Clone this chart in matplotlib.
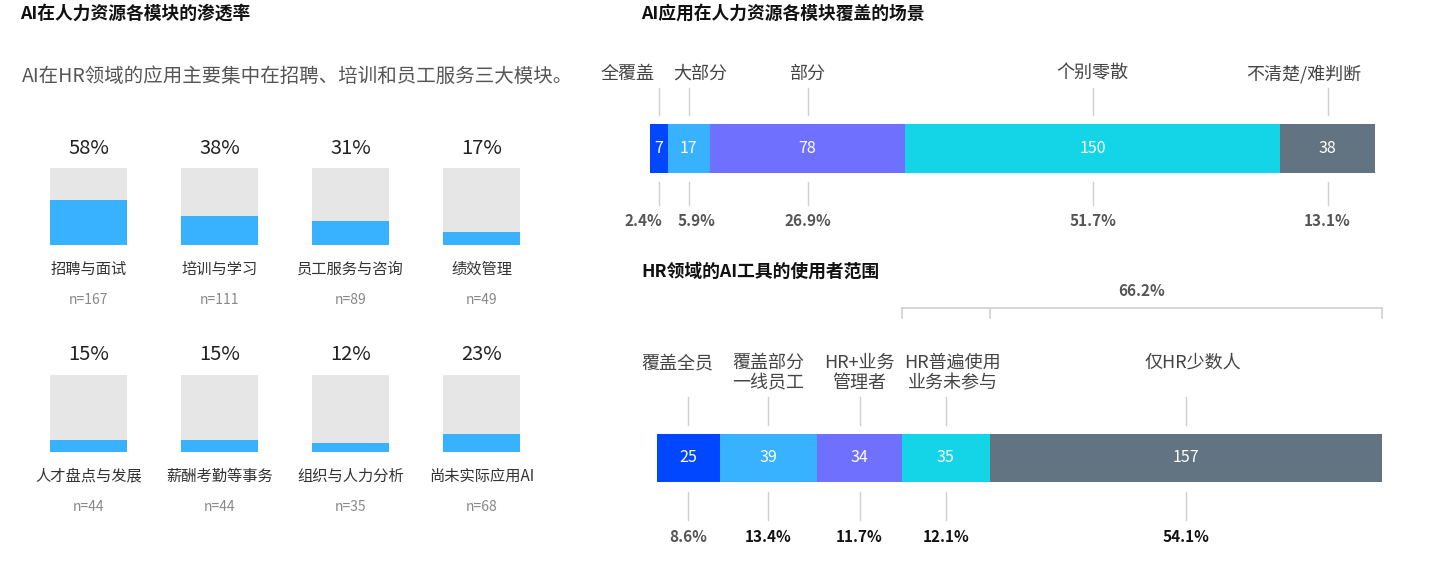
import matplotlib
matplotlib.use('Agg')
import matplotlib.pyplot as plt
from matplotlib.transforms import blended_transform_factory

plt.rcParams['font.family'] = ['Noto Sans CJK SC', 'DejaVu Sans']

W, H = 1434, 576

# 左侧：各模块渗透率
modules = ['招聘与面试', '培训与学习', '员工服务与咨询', '绩效管理',
           '人才盘点与发展', '薪酬考勤等事务', '组织与人力分析', '尚未实际应用AI']
module_pct = [58, 38, 31, 17, 15, 15, 12, 23]
module_n = [167, 111, 89, 49, 44, 44, 35, 68]

# 右上：覆盖场景
coverage_labels = ['全覆盖', '大部分', '部分', '个别零散', '不清楚/难判断']
coverage_counts = [7, 17, 78, 150, 38]

# 右下：使用者范围
user_labels = ['覆盖全员', '覆盖部分\n一线员工', 'HR+业务\n管理者',
               'HR普遍使用\n业务未参与', '仅HR少数人']
user_counts = [25, 39, 34, 35, 157]

seg_colors = ['#0047FF', '#38B2FF', '#7070FF', '#14D4E8', '#627482']
BLUE = '#38B2FF'
GREY_BOX = '#E6E6E6'
LINE = '#D0D0D0'


def px_axes(fig, x0, y0, x1, y1):
    """按像素位置创建坐标轴（y 向下）"""
    return fig.add_axes([x0 / W, 1 - y1 / H, (x1 - x0) / W, (y1 - y0) / H])


fig = plt.figure(figsize=(W / 100, H / 100), dpi=100)
fig.patch.set_facecolor('white')

# ---------- 左侧面板 ----------
fig.text(20 / W, 1 - 14 / H, 'AI在人力资源各模块的渗透率', fontsize=12.8,
         fontweight='bold', va='center', ha='left', color='#111111')
fig.text(22 / W, 1 - 76 / H, 'AI在HR领域的应用主要集中在招聘、培训和员工服务三大模块。',
         fontsize=14, va='center', ha='left', color='#555555')

box = 77
for i, (name, pct, n) in enumerate(zip(modules, module_pct, module_n)):
    row, col = divmod(i, 4)
    x0 = 50 + col * 131
    y0 = 168 + row * 207
    ax = px_axes(fig, x0, y0, x0 + box, y0 + box)
    ax.bar(0, 100, width=1, color=GREY_BOX)
    ax.bar(0, pct, width=1, color=BLUE)
    ax.set_xlim(-0.5, 0.5)
    ax.set_ylim(0, 100)
    ax.axis('off')
    ax.text(0.5, 1 + 20 / box, f'{pct}%', transform=ax.transAxes,
            ha='center', va='center', fontsize=14.5, color='#222222')
    ax.text(0.5, -24 / box, name, transform=ax.transAxes,
            ha='center', va='center', fontsize=11, color='#333333')
    ax.text(0.5, -55 / box, f'n={n}', transform=ax.transAxes,
            ha='center', va='center', fontsize=10, color='#888888')


def stacked_bar(ax, counts):
    total = sum(counts)
    lefts = [sum(counts[:k]) for k in range(len(counts))]
    ax.barh(0, counts, left=lefts, height=1, color=seg_colors)
    ax.set_xlim(0, total)
    ax.set_ylim(-0.5, 0.5)
    ax.axis('off')
    centers = [l + c / 2 for l, c in zip(lefts, counts)]
    for cx, c in zip(centers, counts):
        ax.text(cx, 0, str(c), ha='center', va='center', fontsize=11.5,
                color='white')
    return total, lefts, centers


# ---------- 右上面板 ----------
fig.text(641 / W, 1 - 14 / H, 'AI应用在人力资源各模块覆盖的场景', fontsize=12.8,
         fontweight='bold', va='center', ha='left', color='#111111')

h1 = 49
ax1 = px_axes(fig, 650, 124, 1375, 124 + h1)
total1, lefts1, centers1 = stacked_bar(ax1, coverage_counts)
tr1 = blended_transform_factory(ax1.transData, ax1.transAxes)
label_dx1 = [-31, 11, 0, 0, -24]
pct_dx1 = [-15, 8, 0, 0, 0]
for k, (cx, lab, c) in enumerate(zip(centers1, coverage_labels, coverage_counts)):
    ax1.plot([cx, cx], [1 + 9 / h1, 1 + 36 / h1], color=LINE, lw=1,
             transform=tr1, clip_on=False)
    ax1.plot([cx, cx], [-9 / h1, -32 / h1], color=LINE, lw=1,
             transform=tr1, clip_on=False)
    ax1.annotate(lab, xy=(cx, 1 + 50 / h1), xycoords=tr1,
                 xytext=(label_dx1[k], 0), textcoords='offset pixels',
                 ha='center', va='center', fontsize=13, color='#444444')
    ax1.annotate(f'{c / total1 * 100:.1f}%', xy=(cx, -48 / h1), xycoords=tr1,
                 xytext=(pct_dx1[k], 0), textcoords='offset pixels',
                 ha='center', va='center', fontsize=11, fontweight='bold',
                 color='#555555')

# ---------- 右下面板 ----------
fig.text(641 / W, 1 - 272 / H, 'HR领域的AI工具的使用者范围', fontsize=12.8,
         fontweight='bold', va='center', ha='left', color='#111111')

h2 = 48
ax2 = px_axes(fig, 657, 434, 1382, 434 + h2)
total2, lefts2, centers2 = stacked_bar(ax2, user_counts)
tr2 = blended_transform_factory(ax2.transData, ax2.transAxes)
label_dx2 = [-11, 0, 0, 7, 7]
pct_colors2 = ['#555555', '#111111', '#111111', '#111111', '#111111']
for k, (cx, lab, c) in enumerate(zip(centers2, user_labels, user_counts)):
    ax2.plot([cx, cx], [1 + 9 / h2, 1 + 37 / h2], color=LINE, lw=1,
             transform=tr2, clip_on=False)
    ax2.plot([cx, cx], [-10 / h2, -38 / h2], color=LINE, lw=1,
             transform=tr2, clip_on=False)
    ax2.annotate(lab, xy=(cx, 1 + 80 / h2), xycoords=tr2,
                 xytext=(label_dx2[k], 0), textcoords='offset pixels',
                 ha='center', va='top', fontsize=13, color='#444444',
                 linespacing=1.15)
    ax2.text(cx, -55 / h2, f'{c / total2 * 100:.1f}%', transform=tr2,
             ha='center', va='center', fontsize=11, fontweight='bold',
             color=pct_colors2[k])

# 括号：HR普遍使用 + 仅HR少数人
b0 = lefts2[3]
b_mid = lefts2[4]
y_top = 1 + 126 / h2
y_tick = 1 + 116 / h2
ax2.plot([b0, total2], [y_top, y_top], color=LINE, lw=1.2, transform=tr2,
         clip_on=False)
for bx in (b0, b_mid, total2):
    ax2.plot([bx, bx], [y_top, y_tick], color=LINE, lw=1.2, transform=tr2,
             clip_on=False)
share = sum(user_counts[3:]) / total2 * 100
ax2.text((b0 + total2) / 2, 1 + 143 / h2, f'{share:.1f}%', transform=tr2,
         ha='center', va='center', fontsize=11, fontweight='bold',
         color='#555555')

fig.savefig('out.png', dpi=100)
